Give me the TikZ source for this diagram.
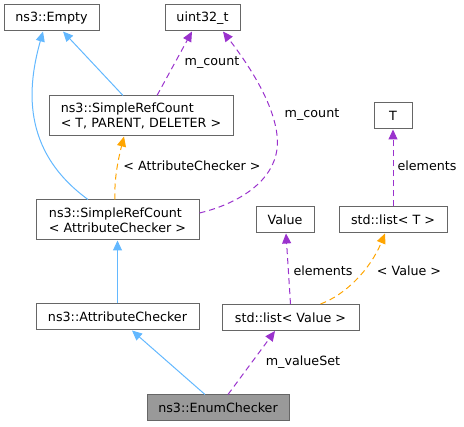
\documentclass[tikz,border=0pt]{standalone}
\usepackage{fontspec}
\setmainfont{DejaVu Sans}
\usetikzlibrary{arrows.meta}
\definecolor{eblue}{HTML}{63B8FF}
\definecolor{epurple}{HTML}{9A32CD}
\definecolor{eorange}{HTML}{FFA500}
\definecolor{eborder}{HTML}{666666}
\definecolor{efill}{HTML}{999999}
\tikzset{
  box/.style={draw=eborder, line width=1pt, fill=white, inner sep=0pt, align=left,
    font=\fontsize{12.7}{15}\selectfont, text=black},
  lbl/.style={inner sep=0pt, font=\fontsize{12.7}{15}\selectfont, text=black},
  tip/.style={-{Triangle[length=10pt,width=9pt]}},
  inh/.style={tip, draw=eblue, line width=1pt},
  use/.style={tip, draw=epurple, line width=1pt, dash pattern=on 6pt off 4pt},
  tmpl/.style={tip, draw=eorange, line width=1pt, dash pattern=on 6pt off 4pt},
}
\begin{document}
\begin{tikzpicture}[x=1pt,y=-1pt]
\useasboundingbox (0,0) rectangle (464,427);
% nodes
\node[box, minimum width=95pt, minimum height=26pt] (empty) at (51.5,18) {ns3::Empty};
\node[box, minimum width=75pt, minimum height=26pt] (uint) at (202.5,18) {uint32\_t};
\node[box, minimum width=184pt, minimum height=40pt] (srcT) at (141,116) {ns3::SimpleRefCount\\< T, PARENT, DELETER >};
\node[box, minimum width=163pt, minimum height=40pt] (srcAC) at (117.5,220) {ns3::SimpleRefCount\\< AttributeChecker >};
\node[box, minimum width=38pt, minimum height=26pt] (T) at (393,116) {T};
\node[box, minimum width=58pt, minimum height=26pt] (value) at (285,220) {Value};
\node[box, minimum width=108pt, minimum height=26pt] (listT) at (393,220) {std::list< T >};
\node[box, minimum width=163pt, minimum height=26pt] (ac) at (117.5,317) {ns3::AttributeChecker};
\node[box, minimum width=137pt, minimum height=26pt] (listV) at (290.5,317.5) {std::list< Value >};
\node[box, minimum width=142pt, minimum height=26pt, fill=efill] (ec) at (218,408) {ns3::EnumChecker};
% edges
\draw[inh] (ac.north) -- (srcAC.south);
\draw[inh] ([xshift=-13pt]ec.north) -- ([xshift=14.5pt]ac.south);
\draw[use] ([xshift=10pt]ec.north) -- ([xshift=-15.5pt]listV.south);
\draw[use] (listV.north) -- ([xshift=1pt]value.south);
\draw[tmpl] ([xshift=30pt]listV.north) .. controls (345,295) and (370,270) .. ([xshift=-8pt]listT.south);
\draw[use] (listT.north) -- (T.south);
\draw[use] ([xshift=16pt]srcT.north) -- ([xshift=-10.5pt]uint.south);
\draw[use] ([yshift=7pt]srcAC.east) .. controls (245,202) and (282,175) .. (277,135) .. controls (273,100) and (245,60) .. ([xshift=20.5pt]uint.south);
\draw[tmpl] ([xshift=-2.5pt]srcAC.north) .. controls (114,180) and (118,160) .. ([xshift=-17pt]srcT.south);
\draw[inh] ([xshift=-18pt]srcT.north) -- ([xshift=11.5pt]empty.south);
\draw[inh] ([xshift=-29.5pt]srcAC.north) .. controls (20,150) and (28,85) .. ([xshift=-8.5pt]empty.south);
% labels
\node[lbl] (l1) at (212,63) {m\_count};
\node[lbl] (l2) at (312,115) {m\_count};
\node[lbl] (l3) at (192,166) {< AttributeChecker >};
\node[lbl] (l4) at (427,166) {elements};
\node[lbl] (l5) at (323,271) {elements};
\node[lbl] (l6) at (409,271) {< Value >};
\node[lbl] (l7) at (303,362) {m\_valueSet};
\end{tikzpicture}
\end{document}
